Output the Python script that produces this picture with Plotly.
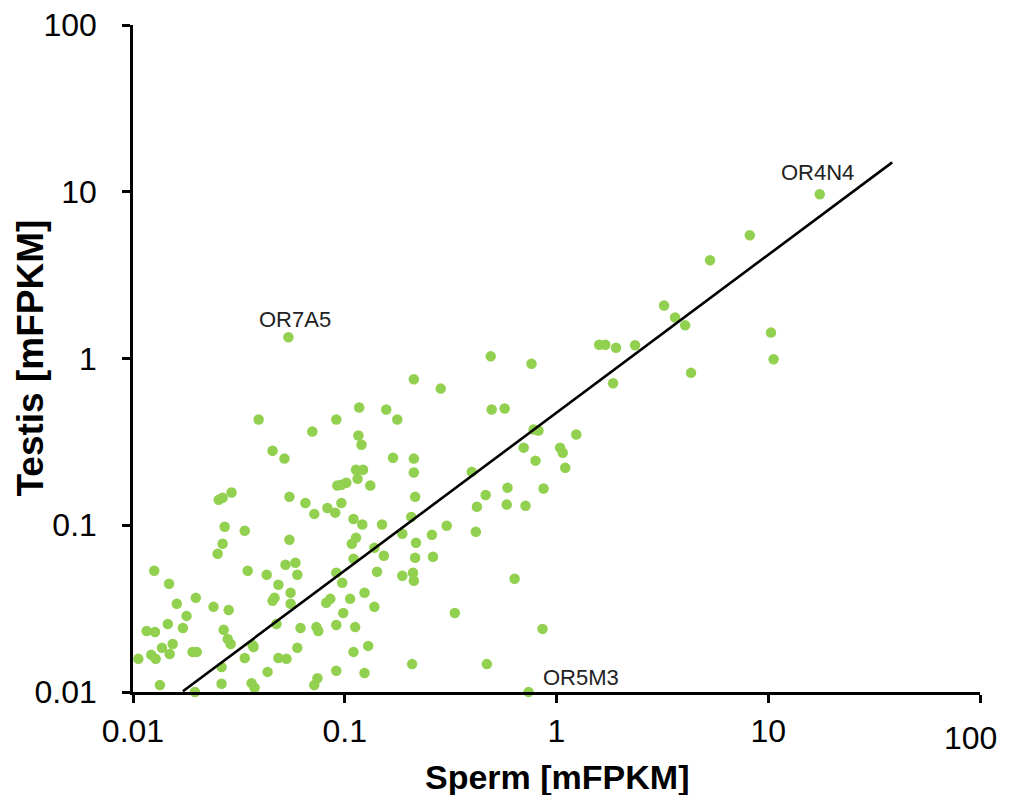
import math
import plotly.graph_objects as go

# sperm vs testis expression of olfactory receptor genes (mFPKM)
sperm = [
    0.0392, 0.0912, 0.0703, 0.0456, 0.0519, 0.0923, 0.0254, 0.0265, 0.0292, 0.0548,
    0.0652, 0.0828, 0.0902, 0.0718, 0.0271, 0.0337, 0.0548, 0.0265, 0.0251, 0.0126,
    0.0348, 0.0428, 0.0525, 0.0585, 0.0597, 0.0912, 0.0148, 0.0486, 0.0555, 0.0198,
    0.0161, 0.0456, 0.0466, 0.0555, 0.0818, 0.0855, 0.0179, 0.0240, 0.0283, 0.0146,
    0.0172, 0.0116, 0.0127, 0.0268, 0.0476, 0.0618, 0.0735, 0.0750, 0.0912, 0.0280,
    0.0289, 0.0154, 0.0137, 0.0149, 0.0122, 0.0128, 0.0106, 0.0191, 0.0200, 0.0367,
    0.0371, 0.0597, 0.0337, 0.0486, 0.0531, 0.0262, 0.0432, 0.0912, 0.0134, 0.0262,
    0.0363, 0.0375, 0.0718, 0.0743, 0.0176, 0.0196, 0.0230, 0.0964, 0.110, 0.121,
    0.150, 0.215, 0.206, 0.187, 0.217, 0.113, 0.108, 0.138, 0.153, 0.110,
    0.215, 0.0973, 0.142, 0.187, 0.210, 0.212, 0.106, 0.124, 0.138, 0.0984,
    0.112, 0.129, 0.110, 0.208, 0.124, 0.463, 0.587, 0.869, 0.421, 0.582,
    0.714, 0.303, 0.258, 0.416, 0.261, 0.634, 0.331, 0.859, 0.469, 0.738,
    0.489, 0.762, 0.284, 0.494, 0.569, 0.780, 0.822, 0.700, 1.04, 1.07,
    0.796, 1.10, 0.398, 0.212, 0.117, 0.157, 0.177, 0.116, 0.120, 1.24,
    0.169, 0.212, 0.212, 0.113, 0.122, 0.115, 0.0964, 0.1017, 0.132, 17.5,
    8.18, 5.31, 3.22, 3.63, 4.05, 1.59, 1.70, 1.91, 2.35, 10.3,
    10.6, 4.32, 1.85, 0.0542,
]
testis = [
    0.431, 0.431, 0.365, 0.280, 0.251, 0.173, 0.142, 0.146, 0.157, 0.148,
    0.136, 0.127, 0.119, 0.117, 0.098, 0.0927, 0.0818, 0.0774, 0.0675, 0.0533,
    0.0533, 0.0505, 0.0579, 0.0596, 0.0505, 0.0519, 0.0446, 0.0440, 0.0394, 0.0367,
    0.0338, 0.0352, 0.0367, 0.0338, 0.0343, 0.0362, 0.0286, 0.0324, 0.0310, 0.0256,
    0.0242, 0.0232, 0.0229, 0.0236, 0.0256, 0.0242, 0.0245, 0.0232, 0.0252, 0.0208,
    0.0194, 0.0194, 0.0184, 0.0169, 0.0167, 0.0158, 0.0158, 0.0174, 0.0174, 0.0191,
    0.0186, 0.0184, 0.0160, 0.0160, 0.0158, 0.0141, 0.0132, 0.0134, 0.0110, 0.0112,
    0.0113, 0.0106, 0.0110, 0.0121, 0.0099, 0.0100, 0.0097, 0.136, 0.109, 0.101,
    0.101, 0.148, 0.112, 0.0889, 0.0785, 0.0841, 0.0774, 0.0733, 0.0656, 0.0630,
    0.0638, 0.0452, 0.0526, 0.0498, 0.0519, 0.0465, 0.0362, 0.0394, 0.0324, 0.0298,
    0.0245, 0.0189, 0.0174, 0.0147, 0.0130, 0.152, 0.168, 0.166, 0.129, 0.133,
    0.131, 0.0993, 0.0877, 0.0914, 0.0647, 0.0478, 0.0298, 0.0239, 0.0147, 0.0100,
    1.03, 0.93, 0.66, 0.494, 0.501, 0.375, 0.370, 0.292, 0.292, 0.272,
    0.244, 0.221, 0.209, 0.75, 0.508, 0.494, 0.431, 0.345, 0.304, 0.350,
    0.254, 0.251, 0.207, 0.215, 0.215, 0.190, 0.175, 0.180, 0.173, 9.66,
    5.48, 3.88, 2.08, 1.76, 1.58, 1.21, 1.21, 1.16, 1.20, 1.43,
    0.99, 0.82, 0.71, 1.34,
]

# power-law trend line end points
trend_x = [0.0172, 38.5]
trend_y = [0.0101, 15.0]

# labelled genes
label_names = ["OR4N4", "OR7A5", "OR5M3"]
label_x = [17.5, 0.0542, 0.738]
label_y = [9.66, 1.34, 0.0100]

tick_vals = [0.01, 0.1, 1, 10, 100]
tick_text = ["0.01", "0.1", "1", "10", "100"]

FONT = "Liberation Sans, Arial"

fig = go.Figure()
fig.add_trace(go.Scatter(
    x=sperm, y=testis, mode="markers",
    marker=dict(color="#92D050", size=10.5, line=dict(width=0)),
    cliponaxis=False, showlegend=False,
))
fig.add_trace(go.Scatter(
    x=trend_x, y=trend_y, mode="lines",
    line=dict(color="black", width=2.6),
    cliponaxis=False, showlegend=False,
))

# pixel offsets of each label from its point
offsets = {"OR4N4": (-2, 22), "OR7A5": (7, 18), "OR5M3": (52, 15)}
for name, x, y in zip(label_names, label_x, label_y):
    dx, dy = offsets[name]
    # annotations on log axes take log10 coordinates
    fig.add_annotation(
        x=math.log10(x), y=math.log10(y), xref="x", yref="y", text=name,
        showarrow=False, xshift=dx, yshift=dy,
        font=dict(family=FONT, size=22, color="#222"),
    )

# last x tick label is nudged left so it stays inside the picture
fig.add_annotation(
    x=math.log10(tick_vals[-1]), y=0, xref="x", yref="paper",
    xanchor="right", yanchor="middle", xshift=19, yshift=-46,
    text=tick_text[-1], showarrow=False,
    font=dict(family=FONT, size=32, color="black"),
)

# axis titles
fig.add_annotation(
    x=0.5, y=0, xref="paper", yref="paper", yanchor="middle",
    yshift=-85, text="<b>Sperm [mFPKM]</b>", showarrow=False,
    font=dict(family=FONT, size=34, color="black"),
)
fig.add_annotation(
    x=0, y=0.5, xref="paper", yref="paper", xanchor="center",
    xshift=-103, text="<b>Testis [mFPKM]</b>", showarrow=False, textangle=-90,
    font=dict(family=FONT, size=37, color="black"),
)

axis_common = dict(
    type="log", range=[-2, 2], automargin=False,
    tickvals=tick_vals,
    showgrid=False, zeroline=False,
    showline=True, linecolor="black", linewidth=2.5,
    ticks="outside", ticklen=8, tickwidth=2.5, tickcolor="black",
    ticklabeloverflow="allow",
    tickfont=dict(family=FONT, size=32, color="black"),
)

# the page body has an 8px margin; keep the figure small enough that no
# scrollbar appears in the 1010x803 window
fig.update_layout(
    width=1000, height=787,
    margin=dict(l=125, r=28, t=17, b=103),
    paper_bgcolor="white", plot_bgcolor="white",
    xaxis=dict(**axis_common, ticktext=tick_text[:-1] + [""], ticklabelstandoff=1),
    yaxis=dict(**axis_common, ticktext=tick_text, ticklabelstandoff=19),
)

fig.write_html("out.html")
